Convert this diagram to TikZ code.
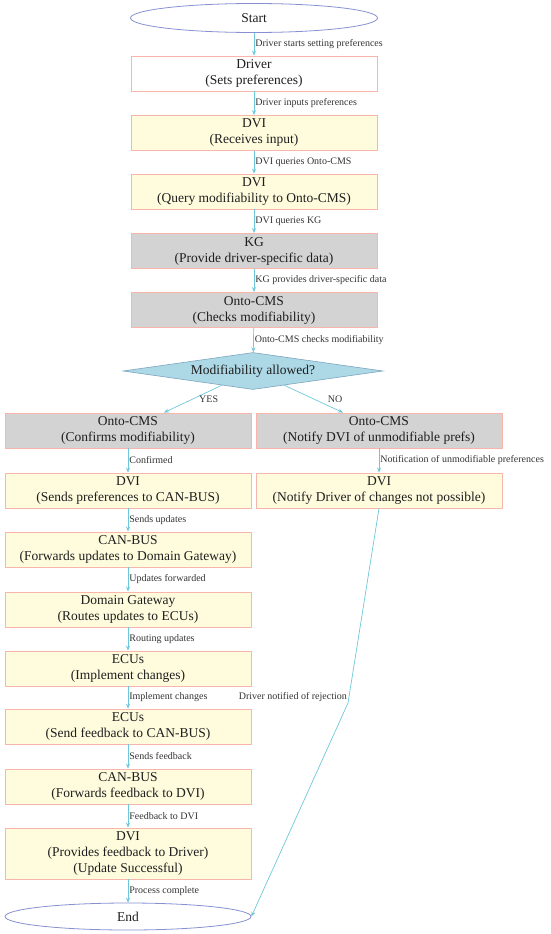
\documentclass[tikz,border=0pt]{standalone}
\usepackage{fontspec}
\setmainfont{Liberation Serif}
\usetikzlibrary{shapes.geometric,arrows.meta,calc}
\definecolor{boxborder}{RGB}{248,182,170}
\definecolor{yel}{RGB}{255,252,222}
\definecolor{gry}{RGB}{211,211,211}
\definecolor{diafill}{RGB}{173,216,230}
\definecolor{diaborder}{RGB}{125,165,190}
\definecolor{ellborder}{RGB}{135,145,210}
\definecolor{arr}{RGB}{110,200,218}
\definecolor{txt}{RGB}{30,30,30}
\begin{document}
\begin{tikzpicture}[x=1pt,y=-1pt,
 base/.style={rectangle, draw=boxborder, line width=0.8pt, minimum width=246pt, minimum height=35pt, inner sep=0pt, align=center, text=txt, font=\fontsize{13.5}{16}\selectfont},
 ybox/.style={base, fill=yel},
 gbox/.style={base, fill=gry},
 wbox/.style={base, fill=white},
 term/.style={ellipse, draw=ellborder, line width=0.8pt, fill=white, inner sep=0pt, text=txt, font=\fontsize{13.5}{16}\selectfont},
 decision/.style={diamond, aspect=7, draw=diaborder, fill=diafill, line width=0.6pt, inner sep=0pt, minimum width=260pt, minimum height=37pt, text=txt, font=\fontsize{13.5}{16}\selectfont},
 flow/.style={draw=arr, line width=0.7pt, -{Stealth[length=5pt,width=4pt]}},
 lbl/.style={font=\fontsize{10}{12}\selectfont, inner sep=1pt, text=black!80},
]
\useasboundingbox (0,0) rectangle (550,934);

\node[term, minimum width=247pt, minimum height=29pt] (start) at (254,18) {Start};
\node[wbox] (driver) at (254,73.5) {Driver\\(Sets preferences)};
\node[ybox] (dvi1) at (254,133) {DVI\\(Receives input)};
\node[ybox] (dvi2) at (254,191.5) {DVI\\(Query modifiability to Onto-CMS)};
\node[gbox] (kg) at (254,251) {KG\\(Provide driver-specific data)};
\node[gbox] (oc1) at (254,310) {Onto-CMS\\(Checks modifiability)};
\node[decision] (dec) at (253,371) {Modifiability allowed?};
\node[gbox] (ocl) at (128,430.5) {Onto-CMS\\(Confirms modifiability)};
\node[gbox] (ocr) at (379,430.5) {Onto-CMS\\(Notify DVI of unmodifiable prefs)};
\node[ybox] (dvil) at (128,490.5) {DVI\\(Sends preferences to CAN-BUS)};
\node[ybox] (dvir) at (379,490.5) {DVI\\(Notify Driver of changes not possible)};
\node[ybox] (can1) at (128,549.5) {CAN-BUS\\(Forwards updates to Domain Gateway)};
\node[ybox] (dg) at (128,609.5) {Domain Gateway\\(Routes updates to ECUs)};
\node[ybox] (ecu1) at (128,668.5) {ECUs\\(Implement changes)};
\node[ybox] (ecu2) at (128,726.5) {ECUs\\(Send feedback to CAN-BUS)};
\node[ybox] (can2) at (128,786.5) {CAN-BUS\\(Forwards feedback to DVI)};
\node[ybox, minimum height=51pt] (dvi3) at (128,853.5) {DVI\\(Provides feedback to Driver)\\(Update Successful)};
\node[term, minimum width=246pt, minimum height=27pt] (endn) at (128,916.5) {End};
\coordinate (bend) at (348,703);

\draw[flow] (start) -- node[lbl, right] {Driver starts setting preferences} (driver);
\draw[flow] (driver) -- node[lbl, right] {Driver inputs preferences} (dvi1);
\draw[flow] (dvi1) -- node[lbl, right] {DVI queries Onto-CMS} (dvi2);
\draw[flow] (dvi2) -- node[lbl, right] {DVI queries KG} (kg);
\draw[flow] (kg) -- node[lbl, right] {KG provides driver-specific data} (oc1);
\draw[flow] (oc1) -- node[lbl, right] {Onto-CMS checks modifiability} (dec);
\draw[flow] ($(dec.south)!0.24!(dec.west)$) -- node[lbl, right=5pt] {YES} ($(ocl.north)+(36,0)$);
\draw[flow] ($(dec.south)!0.24!(dec.east)$) -- node[lbl, right=13pt] {NO} ($(ocr.north)+(-36,0)$);
\draw[flow] (ocl) -- node[lbl, right] {Confirmed} (dvil);
\draw[flow] (ocr) -- node[lbl, right] {Notification of unmodifiable preferences} (dvir);
\draw[flow] (dvil) -- node[lbl, right] {Sends updates} (can1);
\draw[flow] (can1) -- node[lbl, right] {Updates forwarded} (dg);
\draw[flow] (dg) -- node[lbl, right] {Routing updates} (ecu1);
\draw[flow] (ecu1) -- node[lbl, right] {Implement changes} (ecu2);
\draw[flow] (ecu2) -- node[lbl, right] {Sends feedback} (can2);
\draw[flow] (can2) -- node[lbl, right] {Feedback to DVI} (dvi3);
\draw[flow] (dvi3) -- node[lbl, right] {Process complete} (endn);
\draw[flow] (dvir.south) -- (bend) -- (endn.east);
\node[lbl, anchor=south east] (rej) at (bend) {Driver notified of rejection};
\end{tikzpicture}
\end{document}
